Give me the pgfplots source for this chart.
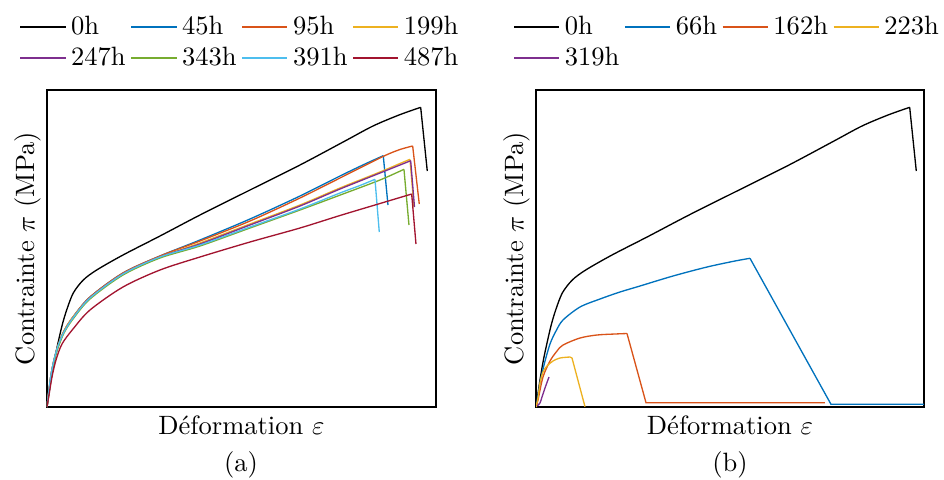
\documentclass[border=0pt]{standalone}
\usepackage{pgfplots}
\pgfplotsset{compat=1.18}
\definecolor{mblue}{RGB}{0,114,189}
\definecolor{morange}{RGB}{217,83,25}
\definecolor{myellow}{RGB}{237,177,32}
\definecolor{mpurple}{RGB}{126,47,142}
\definecolor{mgreen}{RGB}{119,172,48}
\definecolor{mcyan}{RGB}{77,190,238}
\definecolor{mred}{RGB}{162,20,47}
\pgfplotsset{
  panel/.style={
    anchor=south west, width=146.69pt, height=119.54pt, scale only axis,
    xmin=0, ymin=0, ymax=317, xtick=\empty, ytick=\empty,
    axis line style={line width=0.6pt},
    xlabel={Déformation $\varepsilon$}, ylabel={Contrainte $\pi$ (MPa)},
    xlabel style={at={(axis description cs:0.5,0)}, anchor=north, inner sep=3.3pt},
    ylabel style={at={(axis description cs:-0.0488,0.5)}, anchor=center},
    legend columns=4, legend cell align=left,
    legend style={draw=none, fill=none, inner sep=0pt, row sep=3.2pt,
      nodes={inner xsep=1.8pt, inner ysep=0pt},
      anchor=south west, yshift=7.6pt},
    legend image code/.code={\draw[line width=0.6pt] (0cm,0cm) -- (0.6cm,0cm);},
    every axis plot/.append style={line width=0.5pt},
  },
  seg/.style={forget plot, sharp plot},
}
\begin{document}
\begin{tikzpicture}[x=0.3771pt,y=0.3771pt]
\path[use as bounding box] (0,0) rectangle (944,479);
\begin{axis}[panel, at={(17.72pt,27.15pt)}, xmax=389,
  legend style={at={(axis description cs:-0.072,1)}}]
\addplot[black, smooth] coordinates {(0,0)(4,27)(8,50)(14.7,80)(19.7,97)(26.3,114)(36.3,127)(49.7,137)(76,152)(113,171)(153,192)(203,217)(253,242)(298,266)(326,281)(352,292)(373.7,299.7)};
\addlegendentry{0h}
\addplot[black, seg] coordinates {(373.7,299.7)(380.3,236)};
\addplot[mblue, smooth] coordinates {(0,0)(2,17)(4,32)(7,47)(11,61)(17,76)(26,90)(43,110)(76,134)(113,151)(153,167)(203,188)(253,211)(293,231)(318,243)(336.3,251.3)};
\addlegendentry{45h}
\addplot[mblue, seg] coordinates {(336.3,251.3)(341,202)};
\addplot[morange, smooth] coordinates {(0,0)(2,17)(4,32)(7,47)(11,61)(17,76)(26,90)(43,110)(76,134)(113,151)(153,166)(203,186)(253,209)(293,229)(336,250.5)(353,257.5)(365.7,261)};
\addlegendentry{95h}
\addplot[morange, seg] coordinates {(365.7,261)(372.3,203)};
\addplot[myellow, smooth] coordinates {(0,0)(2,17)(4,32)(7,47)(11,61)(17,76)(26,90)(43,109)(76,133)(113,150)(153,164)(203,183)(253,202)(293,219)(333,235)(353,243.5)(363,247.7)};
\addlegendentry{199h}
\addplot[myellow, seg] coordinates {(363,247.7)(367,200)};
\addplot[mpurple, smooth] coordinates {(0,0)(2,16)(4,31)(7,46)(11,60)(17,75)(26,89)(43,109)(76,133)(113,150)(153,163)(203,182)(253,201)(293,218)(333,234)(353,242)(363.7,246.3)};
\addlegendentry{247h}
\addplot[mpurple, seg] coordinates {(363.7,246.3)(367.5,200)};
\addplot[mgreen, smooth] coordinates {(0,0)(2,15)(4,30)(7,45)(11,59)(17,74)(26,88)(43,108)(76,132)(113,149)(153,161)(203,179)(253,197)(296,213)(333,227)(357,237.7)};
\addlegendentry{343h}
\addplot[mgreen, seg] coordinates {(357,237.7)(362,182)};
\addplot[mcyan, smooth] coordinates {(0,0)(2,17)(4,32)(7,47)(11,61)(17,75)(26,89)(43,109)(76,133)(113,150)(153,162)(203,180)(253,198)(293,214)(313,221.5)(328,227.7)};
\addlegendentry{391h}
\addplot[mcyan, seg] coordinates {(328,227.7)(332.3,175)};
\addplot[mred, smooth] coordinates {(0,0)(2,12)(5,30)(9,47)(15,63)(26,78)(43,97)(76,120)(113,137)(153,150)(203,165)(253,179)(293,191.5)(333,203.5)(364.7,213)};
\addlegendentry{487h}
\addplot[mred, seg] coordinates {(364.7,213)(369,163)};
\end{axis}
\node at (241,14) {(a)};
\begin{axis}[panel, at={(202.13pt,27.15pt)}, xmax=388, width=146.31pt,
  legend style={at={(axis description cs:-0.06,1)}}]
\addplot[black, smooth] coordinates {(0,0)(4,27)(8,50)(14.7,80)(19.7,97)(26.3,114)(36.3,127)(49.7,137)(76,152)(113,171)(153,192)(203,217)(253,242)(298,266)(326,281)(352,292)(373.7,299.7)};
\addlegendentry{0h}
\addplot[black, seg] coordinates {(373.7,299.7)(380.3,236)};
\addplot[mblue, smooth] coordinates {(0,0)(1,5)(4,24)(8,42)(14,63)(20,76)(27,87)(44,100)(64,108)(84,115)(104,121)(137,131)(171,140)(199,146)(214,148.7)};
\addlegendentry{66h}
\addplot[mblue, seg] coordinates {(214,148.7)(295,2.7)(388,2.7)};
\addplot[morange, smooth] coordinates {(0,0)(2,7)(7,30)(14,46)(21,56)(27,62)(44,69)(61,72)(79,73)(91,73.5)};
\addlegendentry{162h}
\addplot[morange, seg] coordinates {(91,73.5)(110,4.3)(289,4.3)};
\addplot[myellow, smooth] coordinates {(0,0)(2,9)(4,24)(7,35)(11,41)(17,46)(24,49)(34,50)};
\addlegendentry{223h}
\addplot[myellow, seg] coordinates {(34,50)(36,49)(49,0.3)};
\addplot[mpurple, smooth] coordinates {(1,1)(4,4)(6,10)(9,19)(13,30)};
\addlegendentry{319h}
\end{axis}
\node at (730,14) {(b)};
\end{tikzpicture}
\end{document}
